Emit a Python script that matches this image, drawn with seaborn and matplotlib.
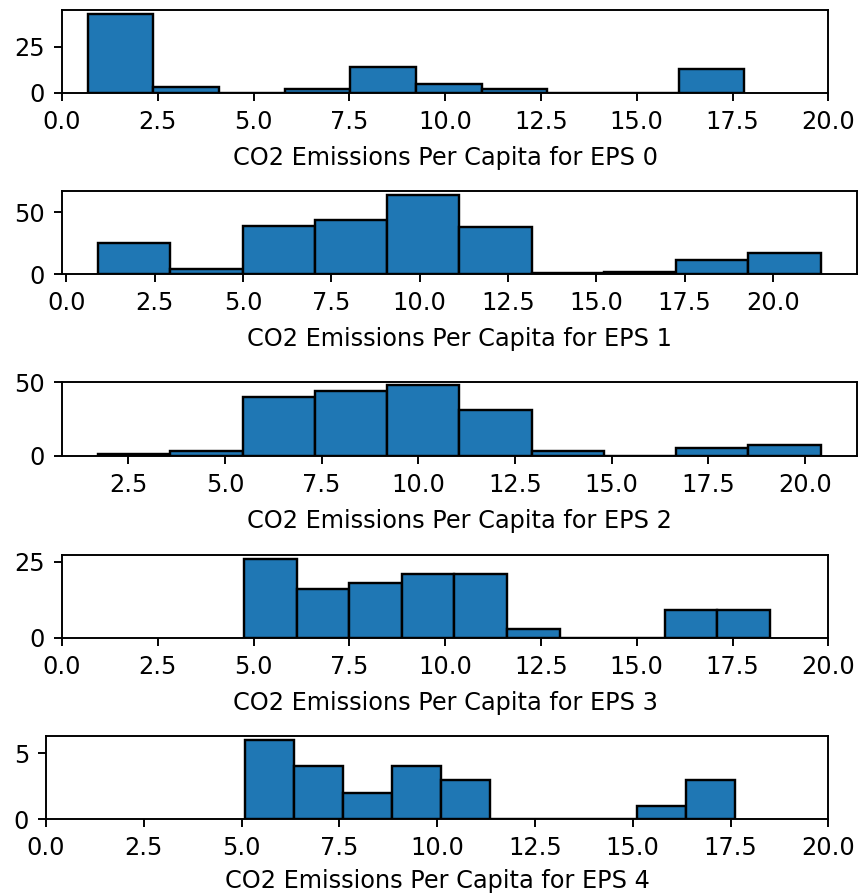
import numpy as np
import pandas as pd
import matplotlib
matplotlib.use("Agg")
import matplotlib.pyplot as plt
import seaborn as sns

# Histogram data (10 equal-width bins per EPS group): data range and counts per bin
eps_labels = ["EPS 0", "EPS 1", "EPS 2", "EPS 3", "EPS 4"]
eps0_range = (0.67, 17.81)
eps0_counts = [43, 3, 0, 2, 14, 5, 2, 0, 0, 13]
eps1_range = (0.90, 21.35)
eps1_counts = [25, 4, 39, 44, 64, 38, 1, 2, 11, 17]
eps2_range = (1.72, 20.40)
eps2_counts = [1, 3, 40, 44, 48, 31, 3, 0, 5, 7]
eps3_range = (4.75, 18.48)
eps3_counts = [26, 16, 18, 21, 21, 3, 0, 0, 9, 9]
eps4_range = (5.08, 17.61)
eps4_counts = [6, 4, 2, 4, 3, 0, 0, 0, 1, 3]

ranges = [eps0_range, eps1_range, eps2_range, eps3_range, eps4_range]
counts = [eps0_counts, eps1_counts, eps2_counts, eps3_counts, eps4_counts]
fixed_xlim = [True, False, False, True, True]

W, H = 859, 894
DPI = 173
fig = plt.figure(figsize=(W / DPI, H / DPI), dpi=DPI)

# axes boxes in pixels: left, right, top, bottom
boxes = [
    (62, 828.3, 10, 92.7),
    (62, 856.7, 191, 274),
    (62, 856.7, 381.7, 455.7),
    (62, 828.3, 555, 637.7),
    (46, 828.3, 736, 819.3),
]
labelpads = [5, 5, 5, 5, 3.5]

for i, (lab, rng, cnt, fx, box, lp) in enumerate(zip(eps_labels, ranges, counts, fixed_xlim, boxes, labelpads)):
    l, r, t, b = box
    ax = fig.add_axes([l / W, 1 - b / H, (r - l) / W, (b - t) / H])
    nb = len(cnt)
    width = (rng[1] - rng[0]) / nb
    centers = [rng[0] + width * (k + 0.5) for k in range(nb)]
    df = pd.DataFrame({"value": centers, "count": cnt})
    sns.histplot(data=df, x="value", weights="count", bins=nb, binrange=rng, ax=ax,
                 color="#1f77b4", edgecolor="black", linewidth=1.0, alpha=1.0)
    if fx:
        ax.set_xlim(0, 20)
    ax.set_ylabel("")
    ax.set_xlabel(f"CO2 Emissions Per Capita for {lab}", labelpad=lp)

fig.savefig("out.png", dpi=DPI)
